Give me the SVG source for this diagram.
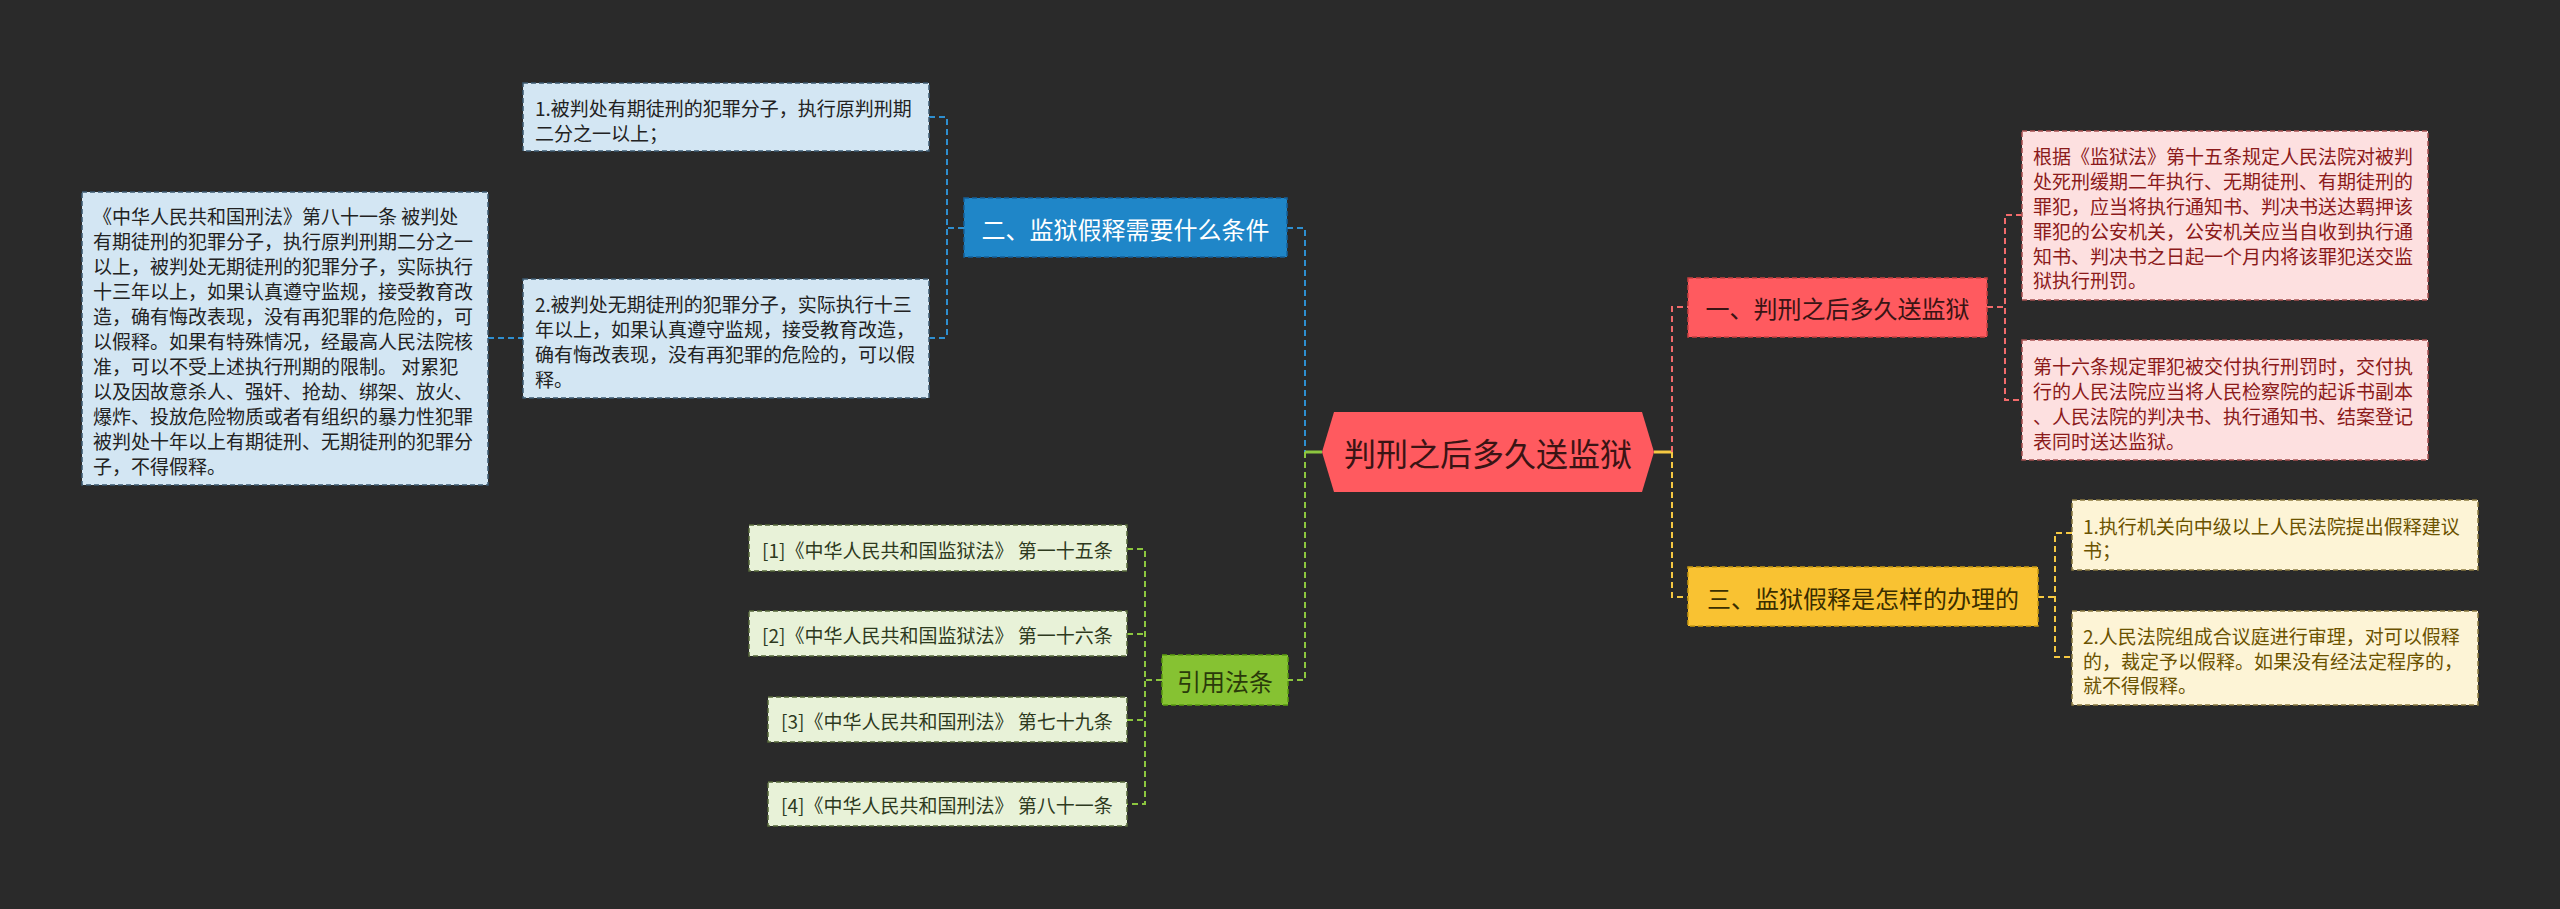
<svg xmlns="http://www.w3.org/2000/svg" width="2560" height="909" viewBox="0 0 2560 909">
<style>
text{font-family:"Noto Sans CJK SC","Noto Sans",sans-serif;dominant-baseline:central}
.leaf{font-size:19px}
.mid{font-size:24px}
.lb rect{fill:#d3e6f3;stroke:#3c5a70;stroke-width:1.5;stroke-dasharray:5 3}
.lb text{fill:#222}
.lp rect{fill:#fde0e0;stroke:#a85050;stroke-width:1.5;stroke-dasharray:5 3}
.lp text{fill:#8b1a1a}
.ly rect{fill:#fdf4d6;stroke:#8a7a40;stroke-width:1.5;stroke-dasharray:5 3}
.ly text{fill:#6b5200}
.lg rect{fill:#e8f2d8;stroke:#55683a;stroke-width:1.5;stroke-dasharray:5 3}
.lg text{fill:#2e3a1e}
.c{fill:none;stroke-width:2;stroke-dasharray:6 4}
.cb{stroke:#2e8fd0}.cr{stroke:#f26b6b}.cy{stroke:#f5c842}.cg{stroke:#8cc63f}
</style>
<rect width="2560" height="909" fill="#2a2a2a"/>
<g id="connectors">
<path class="c cb" d="M929,117 H947 V338 M929,338 H947 M488,338 H523 M964,228 H947 M1287,228 H1305 V452"/>
<path class="c cg" d="M1305,452 V680 H1288 M1162,680 H1145 M1127,549 H1145 V804 H1127 M1127,634 H1145 M1127,720 H1145"/>
<path fill="none" stroke="#8cc63f" stroke-width="3" d="M1322,452 H1305"/>
<path fill="none" stroke="#f5c842" stroke-width="3" d="M1654,452 H1672"/>
<path class="c cr" d="M1672,452 V307 H1688 M1987,307 H2005 M2022,215 H2005 V400 H2022"/>
<path class="c cy" d="M1672,452 V597 H1688 M2038,597 H2055 M2072,533 H2055 V657 H2072"/>
</g>
<g id="root">
<polygon points="1322,452 1334,412 1642,412 1654,452 1642,492 1334,492" fill="#ff5a5f"/>
<text x="1488" y="452" font-size="32" fill="#3a1414" text-anchor="middle">判刑之后多久送监狱</text>
</g>
<g id="n2">
<rect x="964" y="198" width="323" height="59" fill="#1f86c8" stroke="#15609a" stroke-width="1.5" stroke-dasharray="5 3"/>
<text class="mid" x="1125.5" y="228" fill="#fff" text-anchor="middle">二、监狱假释需要什么条件</text>
</g>
<g id="n2-1" class="lb">
<rect x="523" y="83" width="406" height="68"/>
<text class="leaf" x="535" y="107">1.被判处有期徒刑的犯罪分子，执行原判刑期</text>
<text class="leaf" x="535" y="132">二分之一以上；</text>
</g>
<g id="n2-2" class="lb">
<rect x="523" y="279" width="406" height="119"/>
<text class="leaf" x="535" y="303">2.被判处无期徒刑的犯罪分子，实际执行十三</text>
<text class="leaf" x="535" y="328">年以上，如果认真遵守监规，接受教育改造，</text>
<text class="leaf" x="535" y="353">确有悔改表现，没有再犯罪的危险的，可以假</text>
<text class="leaf" x="535" y="378">释。</text>
</g>
<g id="n2-2-1" class="lb">
<rect x="82" y="192" width="406" height="293"/>
<text class="leaf" x="93" y="215">《中华人民共和国刑法》第八十一条 被判处</text>
<text class="leaf" x="93" y="240">有期徒刑的犯罪分子，执行原判刑期二分之一</text>
<text class="leaf" x="93" y="265">以上，被判处无期徒刑的犯罪分子，实际执行</text>
<text class="leaf" x="93" y="290">十三年以上，如果认真遵守监规，接受教育改</text>
<text class="leaf" x="93" y="315">造，确有悔改表现，没有再犯罪的危险的，可</text>
<text class="leaf" x="93" y="340">以假释。如果有特殊情况，经最高人民法院核</text>
<text class="leaf" x="93" y="365">准，可以不受上述执行刑期的限制。 对累犯</text>
<text class="leaf" x="93" y="390">以及因故意杀人、强奸、抢劫、绑架、放火、</text>
<text class="leaf" x="93" y="415">爆炸、投放危险物质或者有组织的暴力性犯罪</text>
<text class="leaf" x="93" y="440">被判处十年以上有期徒刑、无期徒刑的犯罪分</text>
<text class="leaf" x="93" y="465">子，不得假释。</text>
</g>
<g id="n4">
<rect x="1162" y="655" width="126" height="50" fill="#86c232" stroke="#5a9a10" stroke-width="1.5" stroke-dasharray="5 3"/>
<text class="mid" x="1225" y="680" fill="#2a3a0a" text-anchor="middle">引用法条</text>
</g>
<g id="n4-1" class="lg">
<rect x="749" y="525" width="378" height="46"/>
<text class="leaf" x="762" y="549">[1]《中华人民共和国监狱法》 第一十五条</text>
</g>
<g id="n4-2" class="lg">
<rect x="749" y="611" width="378" height="45"/>
<text class="leaf" x="762" y="634">[2]《中华人民共和国监狱法》 第一十六条</text>
</g>
<g id="n4-3" class="lg">
<rect x="768" y="697" width="359" height="45"/>
<text class="leaf" x="781" y="720">[3]《中华人民共和国刑法》 第七十九条</text>
</g>
<g id="n4-4" class="lg">
<rect x="768" y="782" width="359" height="44"/>
<text class="leaf" x="781" y="804">[4]《中华人民共和国刑法》 第八十一条</text>
</g>
<g id="n1">
<rect x="1688" y="278" width="299" height="59" fill="#ff5a5f" stroke="#c94040" stroke-width="1.5" stroke-dasharray="5 3"/>
<text class="mid" x="1837.5" y="307" fill="#3a1414" text-anchor="middle">一、判刑之后多久送监狱</text>
</g>
<g id="n1-1" class="lp">
<rect x="2022" y="131" width="406" height="169"/>
<text class="leaf" x="2033" y="155">根据《监狱法》第十五条规定人民法院对被判</text>
<text class="leaf" x="2033" y="180">处死刑缓期二年执行、无期徒刑、有期徒刑的</text>
<text class="leaf" x="2033" y="205">罪犯，应当将执行通知书、判决书送达羁押该</text>
<text class="leaf" x="2033" y="230">罪犯的公安机关，公安机关应当自收到执行通</text>
<text class="leaf" x="2033" y="255">知书、判决书之日起一个月内将该罪犯送交监</text>
<text class="leaf" x="2033" y="279">狱执行刑罚。</text>
</g>
<g id="n1-2" class="lp">
<rect x="2022" y="340" width="406" height="120"/>
<text class="leaf" x="2033" y="365">第十六条规定罪犯被交付执行刑罚时，交付执</text>
<text class="leaf" x="2033" y="390">行的人民法院应当将人民检察院的起诉书副本</text>
<text class="leaf" x="2033" y="415">、人民法院的判决书、执行通知书、结案登记</text>
<text class="leaf" x="2033" y="440">表同时送达监狱。</text>
</g>
<g id="n3">
<rect x="1688" y="567" width="350" height="59" fill="#f9c232" stroke="#c99a10" stroke-width="1.5" stroke-dasharray="5 3"/>
<text class="mid" x="1863" y="597" fill="#3a2e00" text-anchor="middle">三、监狱假释是怎样的办理的</text>
</g>
<g id="n3-1" class="ly">
<rect x="2072" y="500" width="406" height="70"/>
<text class="leaf" x="2083" y="525">1.执行机关向中级以上人民法院提出假释建议</text>
<text class="leaf" x="2083" y="549">书；</text>
</g>
<g id="n3-2" class="ly">
<rect x="2072" y="611" width="406" height="94"/>
<text class="leaf" x="2083" y="635">2.人民法院组成合议庭进行审理，对可以假释</text>
<text class="leaf" x="2083" y="660">的，裁定予以假释。如果没有经法定程序的，</text>
<text class="leaf" x="2083" y="684">就不得假释。</text>
</g>
</svg>
